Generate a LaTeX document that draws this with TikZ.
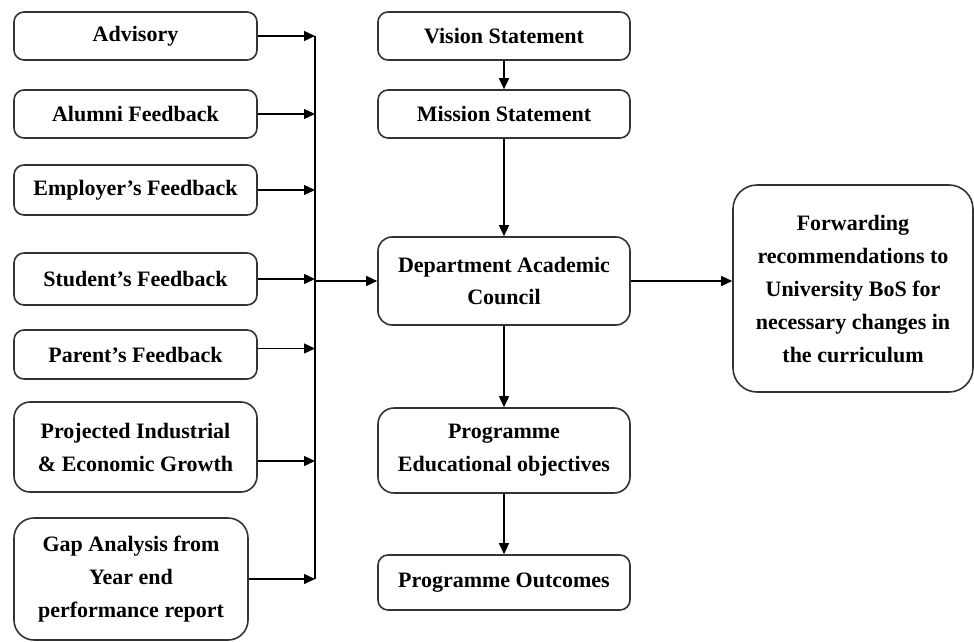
\documentclass[tikz,border=0pt]{standalone}
\usepackage{fontspec}
\setmainfont{Liberation Serif}
\usetikzlibrary{arrows.meta}

\tikzset{
  feedbox/.style={draw=black!80, line width=0.8pt, rounded corners=5pt,
    align=center, inner sep=2pt,
    font=\fontsize{11}{16.5}\selectfont\bfseries},
  flowarrow/.style={-{Triangle[length=5.5pt,width=5pt]}, line width=0.7pt}
}

\begin{document}
\begin{tikzpicture}[x=0.5pt,y=-0.5pt]
  \useasboundingbox (0,0) rectangle (974,642);

  %% feedback inputs
  \node[feedbox, minimum width=121.5pt, minimum height=24pt] (adv) at (135.5,36) {Advisory};
  \node[feedbox, minimum width=121.5pt, minimum height=24pt] (alu) at (135.5,114) {Alumni Feedback};
  \node[feedbox, minimum width=121.5pt, minimum height=25pt] (emp) at (135.5,190) {Employer's Feedback};
  \node[feedbox, minimum width=121.5pt, minimum height=26pt] (stu) at (135.5,279) {Student's Feedback};
  \node[feedbox, minimum width=121.5pt, minimum height=24.5pt] (par) at (135.5,354.5) {Parent's Feedback};
  \node[feedbox, minimum width=121.5pt, minimum height=45pt, rounded corners=8pt] (pro) at (135.5,447)
    {Projected Industrial\\ \& Economic Growth};
  \node[feedbox, minimum width=117pt, minimum height=61pt, rounded corners=10pt] (gap) at (131,579)
    {Gap Analysis from\\ Year end\\ performance report};

  %% main flow
  \node[feedbox, minimum width=126pt, minimum height=24pt] (vis) at (504,36) {Vision Statement};
  \node[feedbox, minimum width=126pt, minimum height=24pt] (mis) at (504,114) {Mission Statement};
  \node[feedbox, minimum width=126pt, minimum height=44pt, rounded corners=7pt] (dac) at (504,281)
    {Department Academic\\ Council};
  \node[feedbox, minimum width=126pt, minimum height=42.5pt, rounded corners=8pt] (peo) at (504,450.5)
    {Programme\\ Educational objectives};
  \node[feedbox, minimum width=126pt, minimum height=27.5pt] (po) at (504,582.5) {Programme Outcomes};
  \node[feedbox, minimum width=120pt, minimum height=103.5pt, rounded corners=12pt] (fwd) at (853,288.5)
    {Forwarding\\ recommendations to\\ University BoS for\\ necessary changes in\\ the curriculum};

  %% collecting line
  \coordinate (bus) at (315,0);
  \draw[line width=0.7pt] (adv.east -| bus) -- (gap.east -| bus);

  \draw[flowarrow] (adv.east) -- (adv.east -| bus);
  \draw[flowarrow] (alu.east) -- (alu.east -| bus);
  \draw[flowarrow] (emp.east) -- (emp.east -| bus);
  \draw[flowarrow] (stu.east) -- (stu.east -| bus);
  \draw[flowarrow] ([yshift=3pt]par.east) -- ([yshift=3pt]par.east -| bus);
  \draw[flowarrow] ([yshift=-7pt]pro.east) -- ([yshift=-7pt]pro.east -| bus);
  \draw[flowarrow] (gap.east) -- (gap.east -| bus);

  \draw[flowarrow] (dac.west -| bus) -- (dac.west);
  \draw[flowarrow] (vis) -- (mis);
  \draw[flowarrow] (mis) -- (dac);
  \draw[flowarrow] (dac) -- (peo);
  \draw[flowarrow] (peo) -- (po);
  \draw[flowarrow] (dac.east) -- (dac.east -| fwd.west);
\end{tikzpicture}
\end{document}
